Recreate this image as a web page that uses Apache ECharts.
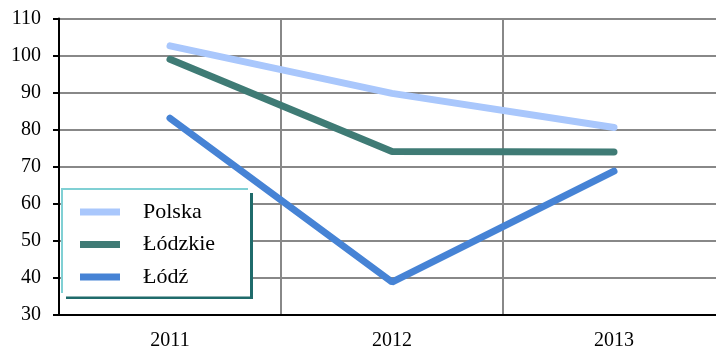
<!DOCTYPE html>
<html>
<head>
<meta charset="utf-8">
<script src="https://cdn.jsdelivr.net/npm/echarts@6/dist/echarts.min.js"></script>
<style>html,body{margin:0;padding:0;background:#fff}#c{width:716px;height:351px}</style>
</head>
<body>
<div id="c"></div>
<script>
var categories = ['2011', '2012', '2013'];
var polska = [102.6, 89.8, 80.6];
var lodzkie = [99.0, 74.1, 74.0];
var lodz = [83.1, 38.9, 68.8];
var seriesNames = ['Polska', 'Łódzkie', 'Łódź'];
var yTicks = {min: 30, max: 110, interval: 10};

var colors = ['#a9c7fc', '#3f7b75', '#4683d5'];
var font = '"Liberation Serif", "Times New Roman", serif';
var chart = echarts.init(document.getElementById('c'));
var dataSets = [polska, lodzkie, lodz];
chart.setOption({
  animation: false,
  grid: {left: 59, width: 666, top: 18.5, height: 296.5, outerBoundsMode: 'none', containLabel: false},
  xAxis: {
    type: 'category', data: categories, boundaryGap: true,
    axisLine: {lineStyle: {color: '#000', width: 2}},
    axisTick: {show: false},
    axisLabel: {color: '#000', fontFamily: font, fontSize: 20, margin: 16},
    splitLine: {show: true, interval: 0, lineStyle: {color: '#888', width: 2}}
  },
  yAxis: {
    type: 'value', min: yTicks.min, max: yTicks.max, interval: yTicks.interval,
    axisLine: {show: true, lineStyle: {color: '#000', width: 2}},
    axisTick: {show: true, length: 6, lineStyle: {color: '#000', width: 2}},
    axisLabel: {color: '#000', fontFamily: font, fontSize: 20, margin: 18},
    splitLine: {show: true, lineStyle: {color: '#888', width: 2}}
  },
  legend: {
    orient: 'vertical', left: 80, top: 201, padding: 0, itemWidth: 40, itemHeight: 7, itemGap: 10.5,
    icon: 'rect', z: 10,
    textStyle: {color: '#000', fontFamily: font, fontSize: 22, padding: [0, 0, 0, 18]},
    data: seriesNames
  },
  graphic: [
    {type: 'rect', z: 5, shape: {x: 62, y: 189, width: 189, height: 108}, style: {fill: '#fff'}},
    {type: 'line', z: 6, shape: {x1: 61, y1: 189, x2: 248, y2: 189}, style: {stroke: '#80d0d4', lineWidth: 2}},
    {type: 'line', z: 6, shape: {x1: 62, y1: 188, x2: 62, y2: 293}, style: {stroke: '#80d0d4', lineWidth: 2}},
    {type: 'line', z: 6, shape: {x1: 251.5, y1: 193, x2: 251.5, y2: 299}, style: {stroke: '#1f6b6b', lineWidth: 3}},
    {type: 'line', z: 6, shape: {x1: 66, y1: 297.8, x2: 253, y2: 297.8}, style: {stroke: '#1f6b6b', lineWidth: 2.5}}
  ],
  series: dataSets.map(function (d, i) {
    return {
      name: seriesNames[i], type: 'line', data: d, showSymbol: false, symbol: 'none',
      itemStyle: {color: colors[i]},
      lineStyle: {color: colors[i], width: 7, cap: 'round'}
    };
  })
});
</script>
</body>
</html>
